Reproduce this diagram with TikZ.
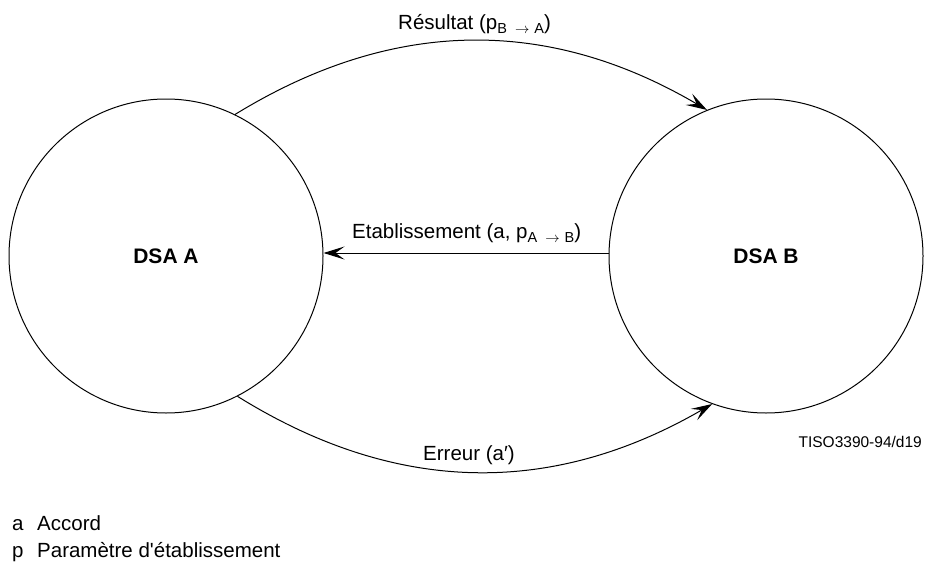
\documentclass[tikz,border=0pt]{standalone}
\usepackage{fontspec}
\setmainfont{Liberation Sans}[Ligatures=TeXOff]
\usetikzlibrary{arrows.meta}
% lowered index with a small arrow, e.g. p_{B -> A}
\newcommand\flowidx[2]{\raisebox{-4.5pt}{\fontsize{14.5}{15}\selectfont #1\hspace{8pt}$\rightarrow$\hspace{5pt}#2}}
\begin{document}
\begin{tikzpicture}[x=1pt,y=-1pt,
  dsa/.style={circle, draw, line width=1pt, minimum size=314pt, inner sep=0pt,
              font=\fontsize{21}{25}\selectfont\bfseries},
  flow/.style={line width=1pt, -{Stealth[length=21pt,width=13pt,inset=9pt]}},
  lbl/.style={font=\fontsize{20.5}{24}\selectfont, inner sep=0pt},
  note/.style={font=\fontsize{15.5}{18}\selectfont, inner sep=0pt}]
\useasboundingbox (0,0) rectangle (926,562);

% the two DSAs
\node[dsa] (A) at (166,256) {DSA A};
\node[dsa] (B) at (766,256) {DSA B};

% exchanges between them
\draw[flow] (A.64) to[bend left=31] (B.112);
\draw[flow] (A.-63) to[bend right=31] (B.-110);
\draw[flow] ([yshift=3pt]B.west) -- ([yshift=3pt]A.east);

% labels of the exchanges
\node[lbl, anchor=base west] (res) at (398,29) {Résultat (p\flowidx{B}{A})};
\node[lbl, anchor=base west] (eta) at (352,238) {Etablissement (a, p\flowidx{A}{B})};
\node[lbl, anchor=base west] (err) at (423,460) {Erreur (a\char"2032)};

% figure reference
\node[note, anchor=base east] (ref) at (922,447) {TISO3390-94/d19};

% legend
\node[lbl, anchor=base west] (ka) at (12,530) {a};
\node[lbl, anchor=base west] (va) at (37,530) {Accord};
\node[lbl, anchor=base west] (kp) at (12,557) {p};
\node[lbl, anchor=base west] (vp) at (37,557) {Paramètre d'établissement};
\end{tikzpicture}
\end{document}
